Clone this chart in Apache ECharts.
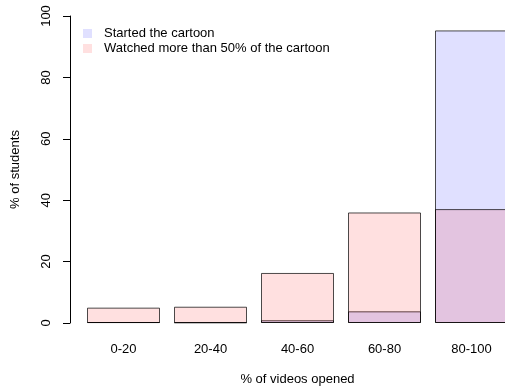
<!DOCTYPE html>
<html>
<head>
<meta charset="utf-8">
<script src="https://cdn.jsdelivr.net/npm/echarts@6/dist/echarts.min.js"></script>
<style>
  html, body { margin: 0; padding: 0; background: #fff; }
  #chart { width: 505px; height: 389px; }
</style>
</head>
<body>
<div id="chart"></div>
<script>
// Share of videos opened, binned
const categories = ['0-20', '20-40', '40-60', '60-80', '80-100'];
// % of students who started the cartoon
const startedValues = [0.3, 0.2, 0.9, 3.8, 95.3];
// % of students who watched more than half of it
const watchedValues = [5.0, 5.3, 16.3, 36.0, 37.1];
const yTicks = [0, 20, 40, 60, 80, 100];

const font = 'Liberation Sans, Arial, sans-serif';
const chart = echarts.init(document.getElementById('chart'));

chart.setOption({
  backgroundColor: '#fff',
  animation: false,
  textStyle: { fontFamily: font, color: '#000' },
  grid: { left: 80, top: 16, width: 435, height: 307, containLabel: false, outerBoundsMode: 'none' },
  legend: {
    orient: 'vertical',
    left: 83,
    top: 27,
    padding: 0,
    itemWidth: 9,
    itemHeight: 9,
    itemGap: 2,
    icon: 'rect',
    itemStyle: { borderWidth: 0 },
    textStyle: { fontFamily: font, fontSize: 13, color: '#000', lineHeight: 10, padding: [0, 0, 0, 7] },
    data: ['Started the cartoon', 'Watched more than 50% of the cartoon']
  },
  xAxis: {
    type: 'category',
    data: categories,
    axisLine: { show: false },
    axisTick: { show: false },
    axisLabel: { fontFamily: font, fontSize: 13, color: '#000', margin: 20 },
    name: '% of videos opened',
    nameLocation: 'middle',
    nameGap: 50,
    nameTextStyle: { fontFamily: font, fontSize: 13, color: '#000' }
  },
  yAxis: {
    type: 'value',
    min: yTicks[0],
    max: yTicks[yTicks.length - 1],
    interval: 20,
    offset: 10,
    splitLine: { show: false },
    axisLine: { show: true, lineStyle: { color: '#000', width: 1 } },
    axisTick: { show: true, length: 7, lineStyle: { color: '#000' } },
    axisLabel: { fontFamily: font, fontSize: 13, color: '#000', rotate: 90, margin: 17 },
    name: '% of students',
    nameLocation: 'middle',
    nameRotate: 90,
    nameGap: 48,
    nameTextStyle: { fontFamily: font, fontSize: 13, color: '#000' }
  },
  series: [
    {
      name: 'Started the cartoon',
      type: 'bar',
      data: startedValues,
      barWidth: 73,
      barGap: '-100%',
      itemStyle: { color: 'rgba(0,0,255,0.12)', borderColor: 'rgba(0,0,0,0.7)', borderWidth: 1 }
    },
    {
      name: 'Watched more than 50% of the cartoon',
      type: 'bar',
      data: watchedValues,
      barWidth: 73,
      barGap: '-100%',
      itemStyle: { color: 'rgba(255,0,0,0.12)', borderColor: 'rgba(0,0,0,0.7)', borderWidth: 1 }
    }
  ]
});
</script>
</body>
</html>
